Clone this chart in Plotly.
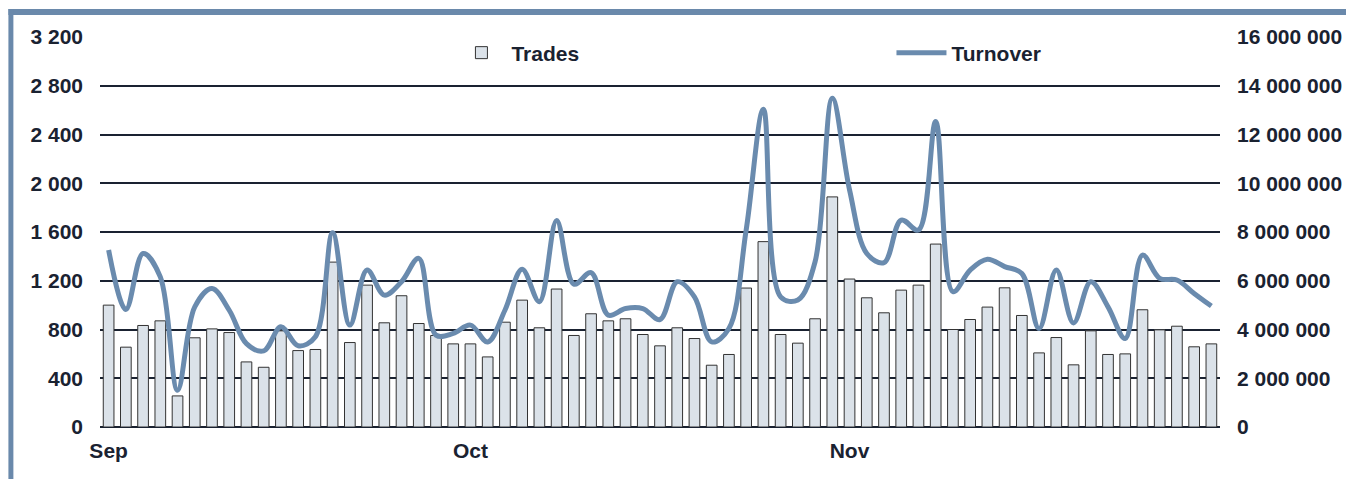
import plotly.graph_objects as go

# ---- data ----
day_index = list(range(65))
trades = [1000, 655, 833, 871, 255, 732, 805, 775, 534, 490,
          789, 627, 636, 1353, 693, 1164, 855, 1077, 849, 751,
          682, 682, 575, 860, 1041, 814, 1132, 751, 929, 871,
          888, 759, 666, 814, 726, 507, 595, 1140, 1521, 759,
          688, 888, 1888, 1214, 1060, 937, 1123, 1164, 1501, 800,
          882, 984, 1142, 915, 608, 734, 510, 789, 595, 600,
          962, 797, 827, 658, 682]
turnover = [7260000, 4820000, 7120000, 6160000, 1510000, 4930000, 5680000, 4790000, 3420000, 3120000,
            4110000, 3330000, 3700000, 7970000, 4180000, 6440000, 5410000, 5960000, 6920000, 3770000,
            3840000, 4180000, 3490000, 4790000, 6470000, 5140000, 8470000, 5860000, 6330000, 4590000,
            4860000, 4860000, 4410000, 5960000, 5340000, 3490000, 4040000, 8080000, 13040000, 5340000,
            5210000, 6780000, 13490000, 9730000, 7120000, 6740000, 8490000, 8080000, 12530000, 5550000,
            6440000, 6880000, 6580000, 6300000, 4040000, 6440000, 4270000, 5960000, 4930000, 3630000,
            7050000, 6100000, 6030000, 5480000, 4960000]
month_ticks = [0, 21, 43]
month_labels = ["Sep", "Oct", "Nov"]
left_ticks = [0, 400, 800, 1200, 1600, 2000, 2400, 2800, 3200]
left_labels = ["0", "400", "800", "1 200", "1 600", "2 000", "2 400", "2 800", "3 200"]
right_ticks = [0, 2000000, 4000000, 6000000, 8000000, 10000000, 12000000, 14000000, 16000000]
right_labels = ["0", "2 000 000", "4 000 000", "6 000 000", "8 000 000",
                "10 000 000", "12 000 000", "14 000 000", "16 000 000"]

TXT = "#1a2231"
FAMILY = "Liberation Sans, Arial, sans-serif"
FONT = dict(family=FAMILY, size=21, color=TXT)
BORDER = "#6a89ab"
OFF = 8  # page body margin offset

# screen-pixel targets, converted into figure coordinates
W, H = 1354 - OFF, 479 - OFF
L, R, T, B = 100 - OFF, 1225 - OFF, 37 - OFF, 427 - OFF


def px(s):
    return ((s - OFF) - L) / (R - L)


def py(s):
    return (B - (s - OFF)) / (B - T)


fig = go.Figure()
fig.add_trace(go.Bar(
    x=day_index, y=trades, name="<b>Trades</b>",
    marker=dict(color="#dbe2e9", line=dict(color="#333333", width=1)),
    yaxis="y", legend="legend",
))
fig.add_trace(go.Scatter(
    x=day_index, y=turnover, name="<b>Turnover</b>", mode="lines",
    line=dict(color="#6a8bae", width=5, shape="spline", smoothing=1.0),
    yaxis="y2", legend="legend2",
))

leg_common = dict(
    orientation="h", xanchor="left", yanchor="middle",
    font=dict(family=FAMILY, size=21, color=TXT),
    bgcolor="rgba(0,0,0,0)", itemwidth=50,
)

fig.update_layout(
    width=W, height=H,
    margin=dict(l=L, r=W - R, t=T, b=H - B, pad=0),
    plot_bgcolor="white", paper_bgcolor="white",
    font=FONT,
    bargap=0.38,
    showlegend=True,
    legend=dict(x=px(453), y=py(53), **leg_common),
    legend2=dict(x=px(895), y=py(53), **leg_common),
    xaxis=dict(
        range=[-0.5, 64.5], tickmode="array", tickvals=month_ticks,
        ticktext=["<b>%s</b>" % m for m in month_labels],
        showgrid=False, zeroline=False, showline=False, ticks="",
        ticklabelstandoff=9,
    ),
    yaxis=dict(
        range=[0, 3200], tickmode="array", tickvals=left_ticks,
        ticktext=["<b>%s</b>" % t for t in left_labels],
        showgrid=True, gridcolor="#1a2231", gridwidth=2.2,
        zeroline=True, zerolinecolor="#1a2231", zerolinewidth=2.2,
        showline=False, ticks="", ticklabelstandoff=16,
    ),
    yaxis2=dict(
        range=[0, 16000000], tickmode="array", tickvals=right_ticks,
        ticktext=["<b>%s</b>" % t for t in right_labels],
        overlaying="y", side="right", showgrid=False, zeroline=False,
        showline=False, ticks="", ticklabelstandoff=16,
    ),
    shapes=[
        dict(type="rect", xref="paper", yref="paper",
             x0=px(8), x1=px(1360), y0=py(15), y1=py(9),
             fillcolor=BORDER, line=dict(width=0), layer="above"),
        dict(type="rect", xref="paper", yref="paper",
             x0=px(8), x1=px(13), y0=py(485), y1=py(9),
             fillcolor=BORDER, line=dict(width=0), layer="above"),
    ],
)

fig.write_html("out.html")
